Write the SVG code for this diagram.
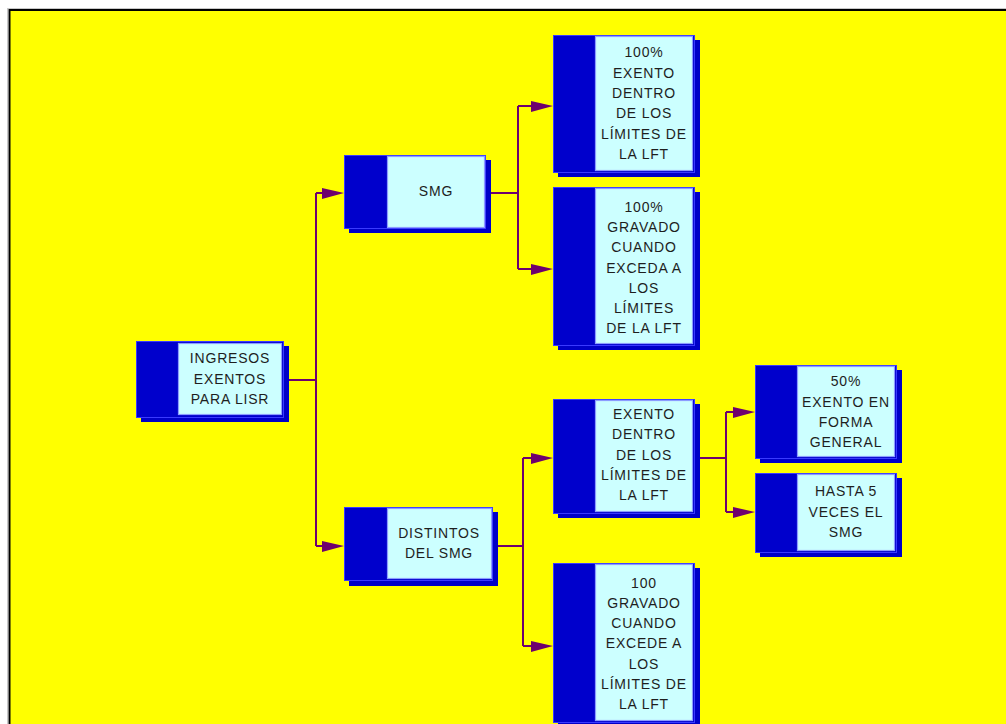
<svg xmlns="http://www.w3.org/2000/svg" width="1006" height="724" viewBox="0 0 1006 724">
<style>
.sh{fill:#0000c8}
.bx{fill:#0000cc;stroke:#3a3aff;stroke-width:1}
.cy{fill:#ccffff;stroke:#8c9cff;stroke-width:1.2}
.t{font-family:"Liberation Sans",Arial,sans-serif;font-size:14px;fill:#1e1e1e;text-anchor:middle;letter-spacing:0.8px}
.ln{fill:none;stroke:#6e006e;stroke-width:2}
.ah{fill:#6e006e}
</style>
<rect x="0" y="0" width="1006" height="724" fill="#ffffff"/>
<rect x="7.5" y="8.5" width="1010" height="730" fill="none" stroke="#c8c8c8" stroke-width="1"/>
<rect x="9.5" y="10" width="1010" height="730" fill="#ffff00" stroke="#000000" stroke-width="2"/>

<g id="connectors">
  <path class="ln" d="M289,380 H316 M316,193 V546 M316,193 H330 M316,546 H330"/>
  <polygon class="ah" points="322,188 344,193 322,199"/>
  <polygon class="ah" points="322,541 344,546 322,552"/>
  <path class="ln" d="M491,193 H518 M518,106 V269 M518,106 H535 M518,269 H535"/>
  <polygon class="ah" points="531,101 553,106 531,112"/>
  <polygon class="ah" points="531,264 553,269 531,275"/>
  <path class="ln" d="M498,546 H523 M523,458 V646 M523,458 H535 M523,646 H535"/>
  <polygon class="ah" points="531,453 553,458 531,464"/>
  <polygon class="ah" points="531,641 553,646 531,652"/>
  <path class="ln" d="M700,458 H726 M726,412 V512 M726,412 H737 M726,512 H737"/>
  <polygon class="ah" points="733,407 755,412 733,418"/>
  <polygon class="ah" points="733,507 755,512 733,518"/>
</g>

<g id="n-ingresos">
  <rect class="sh" x="141" y="346" width="148" height="76"/>
  <rect class="bx" x="136.5" y="341.5" width="147" height="76"/>
  <rect class="cy" x="178.5" y="343.5" width="103" height="71"/>
  <text class="t" x="230" y="363">INGRESOS</text>
  <text class="t" x="230" y="384">EXENTOS</text>
  <text class="t" x="230" y="404">PARA LISR</text>
</g>

<g id="n-smg">
  <rect class="sh" x="349" y="160" width="142" height="73"/>
  <rect class="bx" x="344.5" y="155.5" width="141" height="73"/>
  <rect class="cy" x="387.5" y="156.5" width="97" height="71"/>
  <text class="t" x="436" y="196">SMG</text>
</g>

<g id="n-distintos">
  <rect class="sh" x="349" y="512" width="149" height="74"/>
  <rect class="bx" x="344.5" y="507.5" width="148" height="73"/>
  <rect class="cy" x="387.5" y="508.5" width="104" height="70"/>
  <text class="t" x="439" y="538">DISTINTOS</text>
  <text class="t" x="439" y="558">DEL SMG</text>
</g>

<g id="n-100exento">
  <rect class="sh" x="558" y="40" width="142" height="137"/>
  <rect class="bx" x="553.5" y="35.5" width="141" height="137"/>
  <rect class="cy" x="595.5" y="36.5" width="97" height="134"/>
  <text class="t" x="644" y="57">100%</text>
  <text class="t" x="644" y="78">EXENTO</text>
  <text class="t" x="644" y="98">DENTRO</text>
  <text class="t" x="644" y="118">DE LOS</text>
  <text class="t" x="644" y="139">LÍMITES DE</text>
  <text class="t" x="644" y="159">LA LFT</text>
</g>

<g id="n-100gravado">
  <rect class="sh" x="558" y="192" width="142" height="158"/>
  <rect class="bx" x="553.5" y="187.5" width="141" height="158"/>
  <rect class="cy" x="595.5" y="188.5" width="97" height="155"/>
  <text class="t" x="644" y="212">100%</text>
  <text class="t" x="644" y="232">GRAVADO</text>
  <text class="t" x="644" y="252">CUANDO</text>
  <text class="t" x="644" y="273">EXCEDA A</text>
  <text class="t" x="644" y="293">LOS</text>
  <text class="t" x="644" y="313">LÍMITES</text>
  <text class="t" x="644" y="333">DE LA LFT</text>
</g>

<g id="n-exentodentro">
  <rect class="sh" x="558" y="404" width="142" height="114"/>
  <rect class="bx" x="553.5" y="399.5" width="141" height="114"/>
  <rect class="cy" x="595.5" y="400.5" width="97" height="111"/>
  <text class="t" x="644" y="419">EXENTO</text>
  <text class="t" x="644" y="439">DENTRO</text>
  <text class="t" x="644" y="460">DE LOS</text>
  <text class="t" x="644" y="480">LÍMITES DE</text>
  <text class="t" x="644" y="500">LA LFT</text>
</g>

<g id="n-100gravado2">
  <rect class="sh" x="558" y="568" width="142" height="160"/>
  <rect class="bx" x="553.5" y="563.5" width="141" height="159"/>
  <rect class="cy" x="595.5" y="564.5" width="97" height="156"/>
  <text class="t" x="644" y="588">100</text>
  <text class="t" x="644" y="608">GRAVADO</text>
  <text class="t" x="644" y="628">CUANDO</text>
  <text class="t" x="644" y="648">EXCEDE A</text>
  <text class="t" x="644" y="669">LOS</text>
  <text class="t" x="644" y="689">LÍMITES DE</text>
  <text class="t" x="644" y="709">LA LFT</text>
</g>

<g id="n-50exento">
  <rect class="sh" x="760" y="370" width="142" height="93"/>
  <rect class="bx" x="755.5" y="365.5" width="141" height="93"/>
  <rect class="cy" x="797.5" y="366.5" width="97" height="90"/>
  <text class="t" x="846" y="386">50%</text>
  <text class="t" x="846" y="407">EXENTO EN</text>
  <text class="t" x="846" y="427">FORMA</text>
  <text class="t" x="846" y="447">GENERAL</text>
</g>

<g id="n-hasta5">
  <rect class="sh" x="760" y="478" width="142" height="79"/>
  <rect class="bx" x="755.5" y="473.5" width="141" height="79"/>
  <rect class="cy" x="797.5" y="474.5" width="97" height="76"/>
  <text class="t" x="846" y="496">HASTA 5</text>
  <text class="t" x="846" y="517">VECES EL</text>
  <text class="t" x="846" y="537">SMG</text>
</g>
</svg>
